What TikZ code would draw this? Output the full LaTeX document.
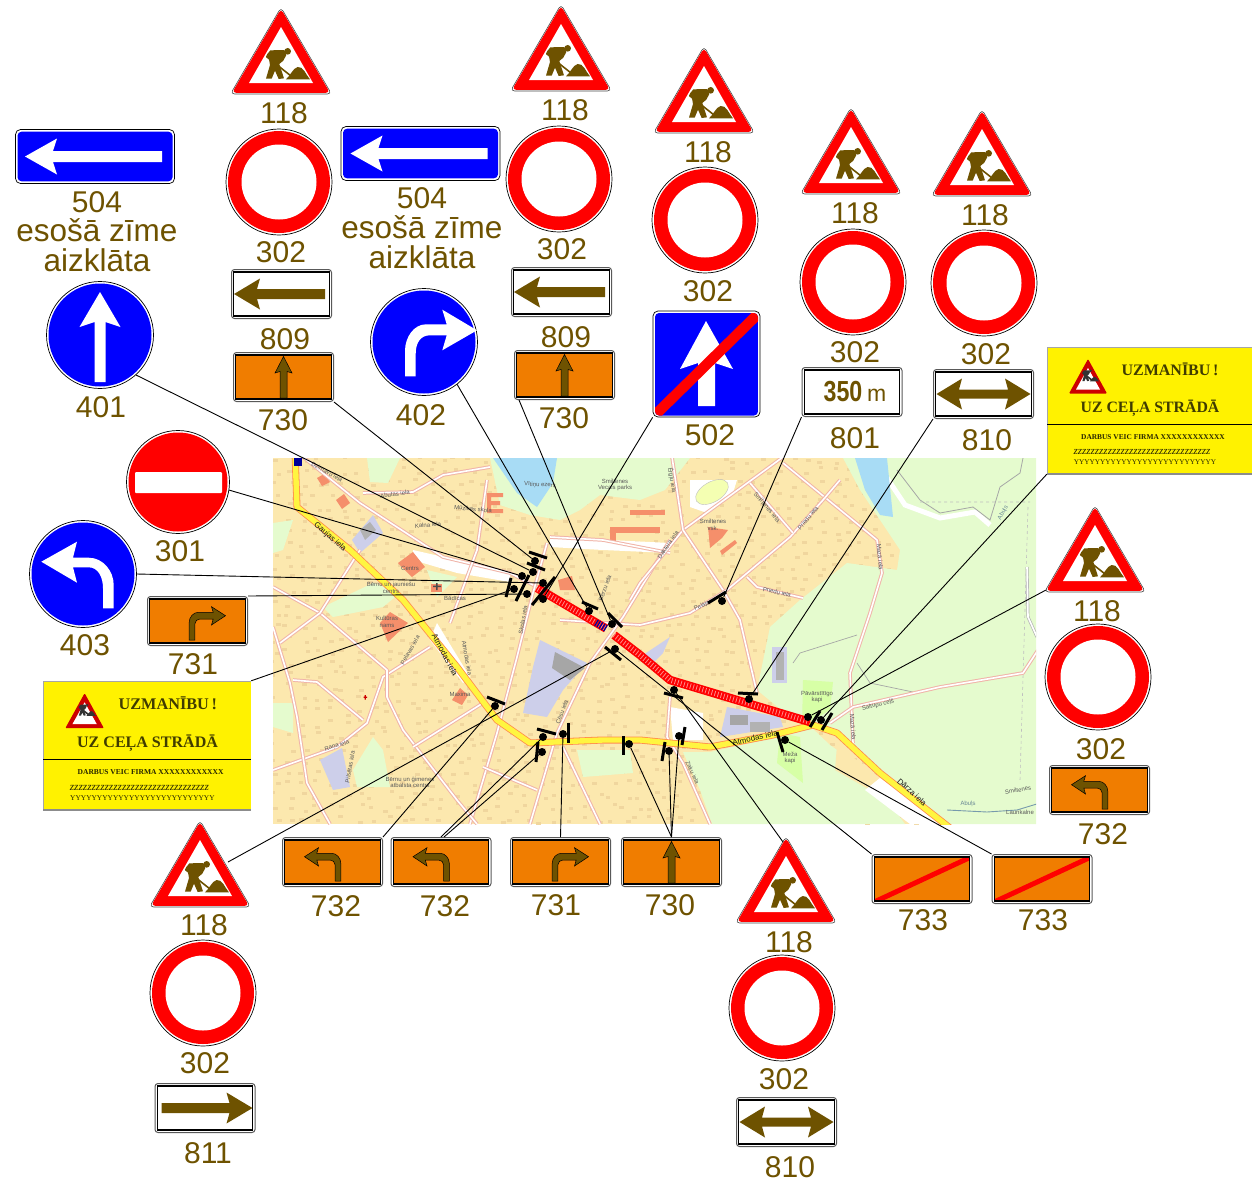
\documentclass[tikz,border=0pt]{standalone}
\usepackage{fontspec}
\usepackage{graphicx}
\setmainfont{Liberation Sans}
\newfontfamily\serifsign{Liberation Serif}
\definecolor{brn}{HTML}{6E5200}
\definecolor{orng}{HTML}{F07D00}
\definecolor{sblue}{HTML}{0000FF}
\definecolor{sred}{HTML}{FF0000}
\definecolor{ylw}{HTML}{FFF200}
\definecolor{built}{HTML}{FCE8AE}
\definecolor{grn}{HTML}{E5FBCE}
\definecolor{hous}{HTML}{F0D69E}
\definecolor{rdpink}{HTML}{F0B4A8}
\definecolor{lav}{HTML}{CDCFEA}
\definecolor{salm}{HTML}{F58F6B}
\definecolor{lake}{HTML}{A8DCF5}
\newcounter{mapn}
\tikzset{
  num/.style={font=\fontsize{30}{30}\selectfont,text=brn,inner sep=0pt},
  word/.style={font=\fontsize{31.5}{32}\selectfont,text=brn,inner sep=0pt},
  discbase/.style={circle,inner sep=0pt,draw=black,line width=.7pt,fill=white},
  platebase/.style={rectangle,rounded corners=3pt,inner sep=0pt,minimum width=100pt,minimum height=49pt,draw=gray!70!black,line width=1pt,fill=white},
  signbase/.style={rectangle,rounded corners=5pt,inner sep=0pt,draw=black,line width=.7pt,fill=white},
  conn/.style={draw=black,line width=.9pt},
  bar/.style={draw=black,line width=3pt},
  mdot/.style={circle,fill=black,inner sep=0pt,minimum size=8pt},
  road/.style={draw=rdpink,line width=3.6pt,line join=round},
  roadin/.style={draw=white,line width=1.6pt,line join=round},
  maplab/.style={font=\fontsize{6}{6.5}\selectfont,text=black!65,inner sep=0pt,align=center},
  mainlab/.style={font=\fontsize{8}{8}\selectfont,text=black!90,inner sep=0pt},
}
% ---- reusable drawings -------------------------------------------
\newcommand{\workerfig}[1]{%
  \fill[#1] (185,154) circle (10);
  \fill[#1] (133,151) -- (175,150) -- (181,165) -- (172,182) -- (160,192) -- (174,235) -- (158,237) -- (147,212) -- (137,236) -- (120,236) -- (132,195) -- (129,178) -- (120,170) -- (124,162) -- cycle;
  \draw[#1,line width=1.6pt] (122,170) -- (195,228);
  \fill[#1] (180,238) .. controls (195,225) and (200,205) .. (215,201) .. controls (232,198) and (240,225) .. (252,238) -- cycle;
}
\newcommand{\worksign}[3]{% name, cx, apex y
  \begin{scope}[shift={(#2,#3)}]
    \coordinate (#1) at (0,42);
    \draw[fill=white,draw=black!70,line width=.6pt,rounded corners=4pt] (0,-2.5) -- (50.5,84) -- (-50.5,84) -- cycle;
    \fill[sred,rounded corners=4pt] (0,-1.2) -- (49,82.8) -- (-49,82.8) -- cycle;
    \fill[white] (0,17) -- (32,73) -- (-32,73) -- cycle;
    \begin{scope}[shift={(-55,-10)},scale=.3333]
      \workerfig{brn}
    \end{scope}
  \end{scope}}
\newcommand{\ringsign}[3]{% name, cx, cy
  \node[discbase,minimum size=106pt] (#1) at (#2,#3) {};
  \fill[sred] (#2,#3) circle (51);
  \fill[white] (#2,#3) circle (37.5);}
\newcommand{\bluedisc}[4]{% name, cx, cy, arrow
  \node[discbase,minimum size=107pt] (#1) at (#2,#3) {};
  \fill[sblue] (#2,#3) circle (51.5);
  \begin{scope}[shift={(#2,#3)}] #4 \end{scope}}
\newcommand{\signplate}[5]{% name, cx, cy, fill, drawing
  \node[platebase] (#1) at (#2,#3) {};
  \begin{scope}[shift={(#2,#3)}]
    \begin{scope}
      \clip (-47.6,-22) rectangle (47.6,22);
      \fill[#4] (-47.6,-22) rectangle (47.6,22);
      #5
    \end{scope}
    \draw[black,line width=1.1pt] (-47.6,-22) rectangle (47.6,22);
  \end{scope}}
\newcommand{\wayblue}[3]{% name, cx, cy
  \node[signbase,minimum width=159pt,minimum height=54pt] (#1) at (#2,#3) {};
  \begin{scope}[shift={(#2,#3)}]
    \fill[sblue,rounded corners=4pt] (-77.5,-24.8) rectangle (77.5,24.8);
    \fill[white] (-70,0) -- (-38,-18) -- (-42,-5.5) -- (67,-5.5) -- (67,5.5) -- (-42,5.5) -- (-38,18) -- cycle;
  \end{scope}}
\newcommand{\arrowleft}{\fill[brn] (-47.5,0) -- (-21.5,-15.5) -- (-24.5,-5) -- (43.5,-5) -- (43.5,5) -- (-24.5,5) -- (-21.5,15.5) -- cycle;}
\newcommand{\arrowright}{\fill[brn] (47.5,0) -- (21.5,-15.5) -- (24.5,-5) -- (-43.5,-5) -- (-43.5,5) -- (24.5,5) -- (21.5,15.5) -- cycle;}
\newcommand{\arrowboth}{\fill[brn] (-47,0) -- (-21.5,-15.5) -- (-24.5,-4.5) -- (24.5,-4.5) -- (21.5,-15.5) -- (47,0) -- (21.5,15.5) -- (24.5,4.5) -- (-24.5,4.5) -- (-21.5,15.5) -- cycle;}
\newcommand{\arrowup}{\draw[fill=brn,draw=black,line width=.5pt] (0,-20.5) -- (8.5,-4) -- (3.5,-5.5) -- (3.5,21) -- (-3.5,21) -- (-3.5,-5.5) -- (-8.5,-4) -- cycle;}
\newcommand{\turnpath}{(-28,-5.3) -- (-14,-14.3) -- (-15.7,-8.7) -- (-.7,-8.7) .. controls (4,-8.7) and (8.3,-4) .. (8.3,1.3) -- (8.3,19) -- (2.7,19) -- (2.7,3) .. controls (2.7,0) and (0,-2) .. (-2.3,-2) -- (-15.7,-2) -- (-14,4) -- cycle}
\newcommand{\arrowturnL}{\draw[fill=brn,draw=black,line width=.5pt] \turnpath;}
\newcommand{\arrowturnR}{\begin{scope}[xscale=-1]\draw[fill=brn,draw=black,line width=.5pt] \turnpath;\end{scope}}
\newcommand{\cancelbar}{\draw[sred,line width=5pt] (-50,24) -- (50,-22.5);}
\newcommand{\noticesign}[3]{% x, y of top-left corner, scale
  \begin{scope}[shift={(#1,#2)},scale=#3,transform shape]
    \fill[ylw] (0,0) rectangle (205,127);
    \draw[black!35,line width=.9pt] (0,127) -- (0,0) -- (205,0);
    \draw[black!45,line width=1.3pt] (0,127) -- (205,127);
    \draw[black,line width=1pt] (0,77) -- (205,77);
    \fill[red!80!black,rounded corners=1pt] (41,12) -- (60,46.5) -- (22,46.5) -- cycle;
    \fill[white] (41,21) -- (53,42.5) -- (29,42.5) -- cycle;
    \begin{scope}[shift={(41,12)},scale=.125,shift={(-165,-60)}]
      \workerfig{black!80}
    \end{scope}
    \node[inner sep=0pt,text=black!75!ylw] at (123,22) {\serifsign\bfseries\fontsize{16}{16}\selectfont UZMANĪBU\,!};
    \node[inner sep=0pt,text=black!75!ylw] at (103,61) {\serifsign\bfseries\fontsize{15.8}{16}\selectfont UZ CEĻA STRĀDĀ};
    \node[inner sep=0pt,text=black!85!ylw] at (106,90) {\serifsign\bfseries\fontsize{7.4}{8}\selectfont DARBUS VEIC FIRMA XXXXXXXXXXXX};
    \node[inner sep=0pt,text=black!85!ylw] at (95,105) {\serifsign\itshape\fontsize{11}{11}\selectfont zzzzzzzzzzzzzzzzzzzzzzzzzzzzzzzz};
    \node[inner sep=0pt,text=black!85!ylw] at (98,115) {\serifsign\fontsize{7.3}{8}\selectfont YYYYYYYYYYYYYYYYYYYYYYYYYYY};
  \end{scope}}
\newcommand{\maptxt}[4]{\stepcounter{mapn}\node[maplab,rotate=#3] (map\arabic{mapn}) at (#1,#2) {#4};}
\newcommand{\mainroadtxt}[4]{\stepcounter{mapn}\node[mainlab,rotate=#3] (map\arabic{mapn}) at (#1,#2) {#4};}
\newcommand{\rd}[1]{\draw[road] #1; \draw[roadin] #1;}
\begin{document}
\begin{tikzpicture}[x=1pt,y=-1pt]
\useasboundingbox (0,0) rectangle (1252,1183);
% ================= MAP =================
\begin{scope}
\clip (273,458) rectangle (1036,824);
\fill[built] (273,458) rectangle (1036,824);
\pgfmathsetseed{4711}
\foreach \i in {0,...,52}{\foreach \j in {0,...,30}{
  \fill[hous] ({273+14*\i+5*rand},{458+12*\j+4*rand}) rectangle ++(4.5,3);
}}
% green areas
\fill[grn] (843,458) -- (1036,458) -- (1036,824) -- (950,824) -- (880,775) -- (838,735) -- (815,722) -- (790,717) -- (757,690) -- (770,627) -- (800,600) -- (847,563) -- (897,570) -- (900,550) -- (880,520) -- (860,490) -- cycle;
\fill[grn] (683,752) -- (710,752) -- (773,738) -- (812,728) -- (830,745) -- (840,752) -- (880,790) -- (905,824) -- (712,824) -- (700,790) -- cycle;
\fill[grn] (490,458) -- (690,458) -- (665,490) -- (640,500) -- (600,495) -- (580,510) -- (560,520) -- (530,515) -- (500,505) -- cycle;
\fill[grn] (367,458) -- (400,458) -- (388,483) -- (370,482) -- cycle;
\fill[grn] (273,523) -- (293,520) -- (283,550) -- (273,553) -- cycle;
\fill[grn] (323,607) -- (373,583) -- (400,593) -- (383,607) -- (333,617) -- cycle;
\fill[grn] (427,570) -- (457,577) -- (437,597) -- cycle;
\fill[grn] (353,770) -- (373,737) -- (383,750) -- (390,787) -- (357,787) -- cycle;
\fill[grn] (577,750) -- (630,750) -- (633,773) -- (583,777) -- cycle;
\fill[grn] (273,703) -- (293,703) -- (293,733) -- (273,727) -- cycle;
\fill[built] (837,745) -- (880,778) -- (870,790) -- (835,770) -- cycle;
% white patches
\fill[white] (880,778) -- (945,824) -- (910,824) -- (865,790) -- cycle;
\fill[white] (413,550) -- (470,563) -- (510,573) -- (510,582) -- (457,573) -- (413,560) -- cycle;
\fill[white] (550,537) -- (670,543) -- (670,553) -- (603,550) -- (550,547) -- cycle;
\fill[white] (437,623) -- (470,677) -- (463,683) -- (430,640) -- cycle;
\fill[white] (670,707) -- (703,713) -- (703,740) -- (673,740) -- cycle;
\fill[white] (690,480) -- (737,480) -- (733,493) -- (707,513) -- (690,507) -- cycle;
\draw[draw=black!25,fill=green!15!yellow!30,rotate around={30:(712,492)}] (712,492) ellipse (18 and 10);
\draw[white,line width=5pt] (885,475) -- (905,505) -- (940,518) -- (975,512) -- (990,525);
% water
\fill[lake] (493,458) -- (557,458) -- (553,483) -- (537,507) -- (517,493) -- cycle;
\fill[lake] (855,458) -- (887,458) -- (893,517) -- (880,515) -- (865,490) -- cycle;
\draw[black!35,line width=.8pt] (897,470) -- (920,500) -- (940,513) -- (973,507) -- (990,520) -- (1000,487) -- (1020,473) -- (1023,458);
\draw[lake!70!black,line width=.9pt] (947,810) -- (987,812) -- (1017,810) -- (1040,803);
\draw[black!25,line width=.6pt,dashed] (920,502) -- (1030,502) (1028,507) -- (1020,780);
\draw[black!35,line width=.7pt] (793,663) -- (800,653) -- (857,635) (857,663) -- (870,683) -- (913,692);
\draw[black!30,line width=3pt] (1027,567) -- (1028,617) -- (1037,637);
\draw[white,line width=1.6pt] (1027,567) -- (1028,617) -- (1037,637);
% cemeteries
\fill[green!45!yellow!35!white] (803,680) -- (833,682) -- (830,710) -- (802,727) -- cycle;
\fill[green!45!yellow!35!white] (780,733) -- (800,737) -- (803,783) -- (777,763) -- cycle;
% institutional areas
\fill[lav] (352,540) -- (373,515) -- (383,533) -- (360,553) -- cycle;
\fill[lav] (540,640) -- (587,663) -- (563,690) -- (547,717) -- (523,713) -- (533,667) -- cycle;
\fill[lav] (640,657) -- (670,637) -- (663,653) -- (653,663) -- cycle;
\fill[lav] (727,707) -- (780,717) -- (783,727) -- (720,737) -- cycle;
\fill[lav] (320,760) -- (342,748) -- (350,787) -- (333,790) -- cycle;
\fill[lav] (772,647) rectangle (787,683);
\fill[black!35] (555,652) -- (585,668) -- (570,680) -- (552,668) -- cycle;
\fill[black!35] (730,715) rectangle (748,725);
\fill[black!30] (750,722) rectangle (770,732);
\fill[black!30] (776,652) rectangle (784,680);
\fill[black!30] (360,530) -- (370,522) -- (376,530) -- (365,540) -- cycle;
% salmon buildings
\fill[salm] (398,563) -- (413,552) -- (425,567) -- (412,577) -- cycle;
\fill[salm] (380,623) -- (390,612) -- (408,623) -- (388,642) -- cycle;
\fill[salm] (317,478) -- (324,474) -- (330,482) -- (322,486) -- cycle;
\fill[salm] (336,500) -- (344,494) -- (350,503) -- (342,509) -- cycle;
\fill[salm] (487,493) rectangle (491,513) (487,493) rectangle (503,497) (487,501) rectangle (500,505) (487,509) rectangle (503,513);
\fill[salm] (613,527) rectangle (660,533);
\fill[salm] (610,527) rectangle (616,543);
\fill[salm] (630,510) rectangle (665,515);
\fill[salm] (708,527) -- (728,530) -- (722,538) -- (710,548) -- cycle;
\fill[salm] (720,551) -- (735,540) -- (737,543) -- (722,555) -- cycle;
\fill[salm] (452,700) -- (460,688) -- (468,695) -- (462,705) -- cycle;
\fill[salm] (558,580) -- (572,576) -- (575,590) -- (560,590) -- cycle;
\fill[salm] (431,584) rectangle (442,592);
% ordinary streets
\rd{(303,457) -- (360,503) -- (443,557) -- (510,573) -- (537,587)}
\rd{(363,493) -- (413,492) -- (443,475) -- (490,467)}
\rd{(487,480) -- (477,550) -- (450,623)}
\rd{(547,543) -- (533,593) -- (517,657) -- (497,733) -- (470,824)}
\rd{(670,540) -- (623,617) -- (590,663) -- (557,733) -- (530,824)}
\rd{(273,770) -- (337,747) -- (367,723) -- (383,677) -- (430,647)}
\rd{(273,587) -- (320,613) -- (387,670) -- (387,697) -- (403,730) -- (457,800) -- (477,824)}
\rd{(273,627) -- (290,683) -- (297,717) -- (307,783) -- (330,824)}
\rd{(280,643) -- (320,613) -- (360,550)}
\rd{(293,680) -- (317,682) -- (363,720)}
\rd{(550,537) -- (603,540) -- (670,553)}
\rd{(483,703) -- (413,747)}
\rd{(483,767) -- (537,790)}
\rd{(563,747) -- (600,824)}
\rd{(783,457) -- (683,530) -- (640,583) -- (630,600)}
\rd{(672,457) -- (683,530) -- (723,590) -- (740,620) -- (757,693)}
\rd{(783,463) -- (877,540) -- (882,573) -- (870,613) -- (850,673) -- (853,743)}
\rd{(560,620) -- (640,625) -- (690,613) -- (727,590) -- (790,537) -- (823,500) -- (840,480)}
\rd{(750,483) -- (793,533)}
\rd{(747,577) -- (757,587) -- (803,598)}
\rd{(830,723) -- (853,707) -- (940,687) -- (1023,673) -- (1038,650)}
\rd{(670,697) -- (667,737) -- (683,763) -- (710,824)}
% main road
\draw[draw=orange!70!red!70,line width=7pt,line join=round] (295,452) -- (297,507) -- (350,550) -- (403,600) -- (457,667) -- (497,720) -- (530,743) -- (603,740) -- (640,740) -- (710,747) -- (773,735) -- (813,725) -- (837,733) -- (880,773) -- (950,828);
\draw[draw=yellow!75!white,line width=5.4pt,line join=round] (295,452) -- (297,507) -- (350,550) -- (403,600) -- (457,667) -- (497,720) -- (530,743) -- (603,740) -- (640,740) -- (710,747) -- (773,735) -- (813,725) -- (837,733) -- (880,773) -- (950,828);
% symbols
\fill[blue!60!black] (294,458) rectangle (302,466);
\fill[red!80!black] (363.5,696.5) rectangle (367,697.8) (364.6,695) rectangle (365.9,699.5);
\fill[black!70] (436,583) rectangle (437.5,590) (433,585.5) rectangle (441,587);
% closed section of road
\draw[sred,line width=8.5pt] (537,588) -- (606,628.5);
\draw[sred,line width=8.5pt] (614,635) -- (640,655) -- (670,680) -- (810,722);
\draw[red!45!white,line width=5.5pt,dash pattern=on .8pt off 2.4pt] (538,589) -- (606,628.5);
\draw[red!45!white,line width=5.5pt,dash pattern=on .8pt off 2.4pt] (614,635) -- (640,655) -- (670,680) -- (809,721.7);
\draw[blue!60!black,line width=7pt,dash pattern=on 1.2pt off 1.4pt] (596,622.5) -- (606,628.5);
% map labels
\mainroadtxt{330}{537}{-42}{Gaujas iela}
\mainroadtxt{445}{655}{-62}{Atmodas iela}
\mainroadtxt{755}{738}{13}{Atmodas iela}
\mainroadtxt{912}{792}{-42}{Dārza iela}
\maptxt{878}{705}{14}{Saltupu ceļš}
\maptxt{540}{485}{-3}{Vītiņu ezers}
\maptxt{615}{485}{0}{Smiltenes\\Vecais parks}
\maptxt{410}{568}{0}{Centrs}
\maptxt{387}{622}{0}{Kultūras\\nams}
\maptxt{460}{694}{0}{Maxima}
\maptxt{410}{782}{0}{Bērnu un ģimenes\\atbalsta centrs}
\maptxt{817}{697}{0}{Pāvārstītīgo\\kapi}
\maptxt{790}{758}{0}{Meža\\kapi}
\maptxt{713}{525}{0}{Smiltenes\\vsk.}
\maptxt{473}{509}{-5}{Mūzikas skola}
\maptxt{428}{525}{5}{Kalna iela}
\maptxt{395}{494}{8}{Abutas iela}
\maptxt{777}{592}{-12}{Priedu iela}
\maptxt{668}{545}{55}{Daktera iela}
\maptxt{327}{472}{-30}{Dzirnavu iela}
\maptxt{391}{588}{0}{Bērnu un jauniešu\\centrs}
\maptxt{455}{598}{0}{Bādīcas}
\maptxt{337}{746}{17}{Raņa iela}
\maptxt{350}{767}{80}{Pilsētas iela}
\maptxt{410}{650}{60}{Pelavas iela}
\maptxt{467}{658}{-80}{Atmodas iela}
\maptxt{767}{507}{-50}{Smiltenes iela}
\maptxt{808}{518}{50}{Priedu iela}
\maptxt{880}{557}{-85}{Mazā iela}
\maptxt{853}{727}{-85}{Mazā iela}
\maptxt{1003}{513}{60}{\textcolor{lake!60!black}{Abuļs}}
\maptxt{968}{804}{3}{\textcolor{lake!60!black}{Abuļs}}
\maptxt{1018}{790}{10}{Smiltenes}
\maptxt{1020}{812}{0}{Launkalne}
\maptxt{692}{773}{-65}{Zaķu iela}
\maptxt{562}{712}{70}{Cēsu iela}
\maptxt{523}{620}{80}{Skolas iela}
\maptxt{605}{588}{70}{Bērzu iela}
\maptxt{702}{606}{25}{Pelāja}
\maptxt{672}{480}{-80}{Ērgļu iela}
\end{scope}
% ================= BARS AND DOTS =================
\draw[bar] (529,552) -- (547,558);
\draw[bar] (527,563) -- (545,570);
\draw[bar] (511,578) -- (506,597);
\draw[bar] (529,575) -- (516,601);
\draw[bar] (555,577) -- (532,605);
\draw[bar] (582,602) -- (598,609);
\draw[bar] (608,613) -- (622,627);
\draw[bar] (605,647) -- (621,660);
\draw[bar] (487,697) -- (505,704);
\draw[bar] (537,729) -- (556,734);
\draw[bar] (538,742) -- (536,762);
\draw[bar] (568,723) -- (568,743);
\draw[bar] (623,736) -- (623,755);
\draw[bar] (665,742) -- (662,761);
\draw[bar] (685,727) -- (682,745);
\draw[bar] (708,603) -- (726,592);
\draw[bar] (664,693) -- (683,698);
\draw[bar] (738,693) -- (758,694);
\draw[bar] (820,711) -- (810,727);
\draw[bar] (832,713) -- (822,730);
\draw[bar] (777,732) -- (783,752);
\node[mdot] (d401) at (533,572) {};
\node[mdot] (d730a) at (535,561) {};
\node[mdot] (d301) at (522,576) {};
\node[mdot] (d403) at (543,583) {};
\node[mdot] (d731) at (527,594) {};
\node[mdot] (dnoteL) at (514,589) {};
\node[mdot] (d402) at (589,611) {};
\node[mdot] (d730b) at (612,624) {};
\node[mdot] (d502) at (543,599) {};
\node[mdot] (dbelow) at (615,649) {};
\node[mdot] (d732a) at (495,706) {};
\node[mdot] (d732b) at (543,737) {};
\node[mdot] (d732c) at (542,752) {};
\node[mdot] (d731b) at (563,734) {};
\node[mdot] (d730c) at (629,744) {};
\node[mdot] (d730d) at (669,751) {};
\node[mdot] (d730e) at (679,736) {};
\node[mdot] (d801) at (722,601) {};
\node[mdot] (d810) at (749,699) {};
\node[mdot] (dnoteR) at (821,720) {};
\node[mdot] (dright) at (808,717) {};
\node[mdot] (dcentre) at (674,690) {};
\node[mdot] (d733) at (785,740) {};
% ================= SIGNS =================
\worksign{tA}{281}{10}
\worksign{tB}{561}{7}
\worksign{tC}{704}{49}
\worksign{tD}{851}{110}
\worksign{tE}{982}{112}
\worksign{tF}{1095}{508}
\worksign{tG}{200}{823}
\worksign{tH}{786}{839}
\coordinate (tFend) at (1046,590);
\coordinate (tGend) at (228,862);
\coordinate (tHend) at (783,842);
\ringsign{rA}{279}{182}
\ringsign{rB}{559}{179}
\ringsign{rC}{705}{220}
\ringsign{rD}{853}{282}
\ringsign{rE}{984}{283}
\ringsign{rF}{1098}{677}
\ringsign{rG}{203}{993}
\ringsign{rH}{782}{1008}
\wayblue{wA}{95}{156.5}
\wayblue{wB}{420.5}{153.5}
\signplate{pA}{281.5}{294}{white}{\arrowleft}
\signplate{pB}{561.5}{292}{white}{\arrowleft}
\signplate{pC}{283.5}{377}{orng}{\arrowup}
\signplate{pD}{564.5}{375}{orng}{\arrowup}
\signplate{pE}{671.5}{862}{orng}{\arrowup}
\signplate{pF}{197.5}{621}{orng}{\arrowturnR}
\signplate{pG}{560.5}{862}{orng}{\arrowturnR}
\signplate{pH}{332.5}{862}{orng}{\arrowturnL}
\signplate{pI}{441}{862}{orng}{\arrowturnL}
\signplate{pJ}{1099.5}{790}{orng}{\arrowturnL}
\signplate{pK}{922}{879}{orng}{\cancelbar}
\signplate{pL}{1042}{879}{orng}{\cancelbar}
\signplate{pM}{983.5}{394}{white}{\arrowboth}
\signplate{pN}{786.5}{1122}{white}{\arrowboth}
\signplate{pO}{205}{1108}{white}{\arrowright}
\signplate{pP}{852}{392}{white}{\node[inner sep=0pt,text=brn] (dist) at (3,0) {\fontsize{29}{29}\selectfont\bfseries\scalebox{.8}[1]{350}\,{\normalfont\fontsize{23}{23}\selectfont m}};}
\bluedisc{cA}{100}{335}{\fill[white] (0,-43) -- (20.5,-8) -- (5.5,-13) -- (5.5,47) -- (-5.5,47) -- (-5.5,-13) -- (-20.5,-8) -- cycle;}
\bluedisc{cB}{424}{342}{\fill[white] (53,-11.7) -- (18.3,-32.3) -- (22.7,-17.7) -- (2,-17.7) .. controls (-10,-17.7) and (-19,-5) .. (-19,9) -- (-19,34.3) -- (-8.3,34.3) -- (-8.3,12) .. controls (-8.3,0) and (-3,-6.7) .. (6,-6.7) -- (22.7,-6.7) -- (18.3,8.3) -- cycle;}
\bluedisc{cC}{83}{574}{\fill[white] (-41.7,-12.3) -- (-6,-32.3) -- (-10,-16.3) -- (5.7,-16.3) .. controls (20,-16.3) and (30.7,-3) .. (30.7,11) -- (30.7,34.3) -- (20,34.3) -- (20,14.3) .. controls (20,3) and (15,-6.7) .. (5.7,-6.7) -- (-10,-6.7) -- (-6,8.7) -- cycle;}
\node[discbase,minimum size=103pt] (cD) at (178,482) {};
\fill[sred] (178,482) circle (49.5);
\fill[white,rounded corners=1pt] (135,472) rectangle (222,493);
\node[signbase,minimum width=107pt,minimum height=106pt] (sq) at (706.5,364) {};
\begin{scope}
  \clip[rounded corners=4pt] (655,313) rectangle (758,415.5);
  \fill[sblue] (655,313) rectangle (758,415.5);
  \fill[white] (706,321) -- (733,369) -- (715,363) -- (715,406) -- (698,406) -- (698,363) -- (680,369) -- cycle;
  \draw[sred,line width=10.5pt] (762,310) -- (651,419);
\end{scope}
\node[inner sep=0pt,minimum width=205pt,minimum height=127pt] (nR) at (1149.5,410.5) {};
\noticesign{1047}{347}{1}
\node[inner sep=0pt,minimum width=208pt,minimum height=129pt] (nL) at (147,745.5) {};
\noticesign{43}{681}{1.015}
% ================= LABELS =================
\node[num] (l01) at (284,113) {118};
\node[num] (l02) at (565,110) {118};
\node[num] (l03) at (708,152) {118};
\node[num] (l04) at (855,213) {118};
\node[num] (l05) at (985,215) {118};
\node[num] (l06) at (1097,611) {118};
\node[num] (l07) at (204,925) {118};
\node[num] (l08) at (789,942) {118};
\node[num] (l11) at (281,252) {302};
\node[num] (l12) at (562,249) {302};
\node[num] (l13) at (708,291) {302};
\node[num] (l14) at (855,352) {302};
\node[num] (l15) at (986,354) {302};
\node[num] (l16) at (1101,749) {302};
\node[num] (l17) at (205,1063) {302};
\node[num] (l18) at (784,1079) {302};
\node[num] (l21) at (97,202) {504};
\node[word] (l22) at (97,230) {esošā zīme};
\node[word] (l23) at (97,260) {aizklāta};
\node[num] (l24) at (422,198) {504};
\node[word] (l25) at (422,227) {esošā zīme};
\node[word] (l26) at (422,257) {aizklāta};
\node[num] (l31) at (285,339) {809};
\node[num] (l32) at (566,337) {809};
\node[num] (l33) at (283,420) {730};
\node[num] (l34) at (564,418) {730};
\node[num] (l35) at (670,905) {730};
\node[num] (l36) at (101,407) {401};
\node[num] (l37) at (421,415) {402};
\node[num] (l38) at (710,435) {502};
\node[num] (l39) at (855,438) {801};
\node[num] (l40) at (987,440) {810};
\node[num] (l41) at (790,1167) {810};
\node[num] (l42) at (180,551) {301};
\node[num] (l43) at (85,645) {403};
\node[num] (l44) at (193,664) {731};
\node[num] (l45) at (556,905) {731};
\node[num] (l46) at (1103,834) {732};
\node[num] (l47) at (336,906) {732};
\node[num] (l48) at (445,906) {732};
\node[num] (l49) at (923,920) {733};
\node[num] (l50) at (1043,920) {733};
\node[num] (l51) at (208,1153) {811};
% ================= CONNECTORS =================
\draw[conn] (cA.-48) -- (d401);
\draw[conn] (pC.south east) -- (d730a);
\draw[conn] (cD.-9) -- (d301);
\draw[conn] (cC.east) -- (d403);
\draw[conn] (pF.north east) -- (d731);
\draw[conn] (nL.north east) -- (dnoteL);
\draw[conn] (cB.-52) -- (d402);
\draw[conn] ([xshift=5pt]pD.south west) -- (d730b);
\draw[conn] (sq.south west) -- (d502);
\draw[conn] (tGend) -- (dbelow);
\draw[conn] (pH.north east) -- (d732a);
\draw[conn] (pI.north) -- (d732b);
\draw[conn] ([xshift=3pt]pI.north) -- (d732c);
\draw[conn] (pG.north) -- (d731b);
\draw[conn] (pE.north) -- (d730c);
\draw[conn] (pE.north) -- (d730d);
\draw[conn] (pE.north) -- (d730e);
\draw[conn] (pP.south west) -- (d801);
\draw[conn] (pM.south west) -- (d810);
\draw[conn] (nR.south west) -- (dnoteR);
\draw[conn] (tFend) -- (dright);
\draw[conn] (tHend) -- (dcentre);
\draw[conn] (pK.north west) -- (dbelow);
\draw[conn] (pL.north west) -- (d733);
\end{tikzpicture}
\end{document}
